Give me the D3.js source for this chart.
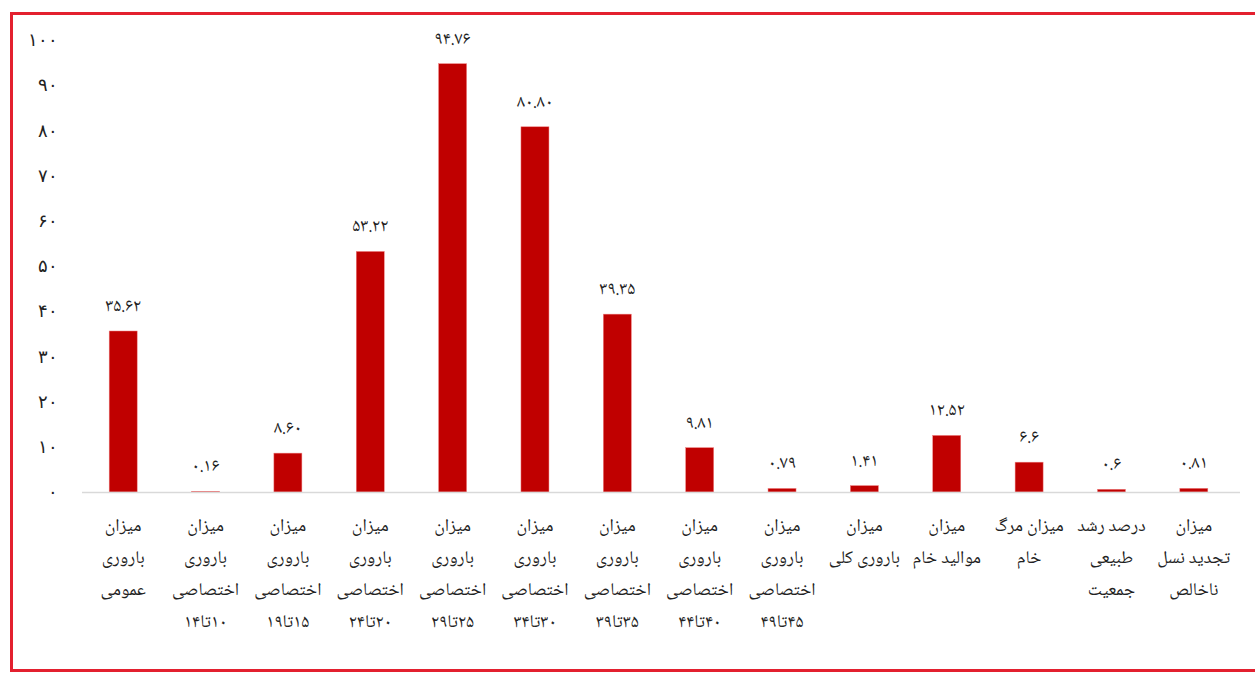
<!DOCTYPE html>
<html>
<head>
<meta charset="utf-8">
<script src="https://cdn.jsdelivr.net/npm/d3@7"></script>
<style>
  body { margin: 0; background: #fff; }
  svg { display: block; font-family: "Noto Naskh Arabic", "Noto Sans Arabic", "DejaVu Sans", sans-serif; }
</style>
</head>
<body>
<div id="chart"></div>
<script>
// data
const categories = [
  ['میزان', 'باروری', 'عمومی'],
  ['میزان', 'باروری', 'اختصاصی', '۱۰تا۱۴'],
  ['میزان', 'باروری', 'اختصاصی', '۱۵تا۱۹'],
  ['میزان', 'باروری', 'اختصاصی', '۲۰تا۲۴'],
  ['میزان', 'باروری', 'اختصاصی', '۲۵تا۲۹'],
  ['میزان', 'باروری', 'اختصاصی', '۳۰تا۳۴'],
  ['میزان', 'باروری', 'اختصاصی', '۳۵تا۳۹'],
  ['میزان', 'باروری', 'اختصاصی', '۴۰تا۴۴'],
  ['میزان', 'باروری', 'اختصاصی', '۴۵تا۴۹'],
  ['میزان', 'باروری کلی'],
  ['میزان', 'موالید خام'],
  ['میزان مرگ', 'خام'],
  ['درصد رشد', 'طبیعی', 'جمعیت'],
  ['میزان', 'تجدید نسل', 'ناخالص']
];
const values = [35.62, 0.16, 8.60, 53.22, 94.76, 80.80, 39.35, 9.81, 0.79, 1.41, 12.52, 6.6, 0.6, 0.81];
const valueLabels = ['35.62', '0.16', '8.60', '53.22', '94.76', '80.80', '39.35', '9.81', '0.79', '1.41', '12.52', '6.6', '0.6', '0.81'];
const yTicks = [0, 10, 20, 30, 40, 50, 60, 70, 80, 90, 100];

// latin digits -> persian digits
const faDigits = '۰۱۲۳۴۵۶۷۸۹';
const toFa = s => String(s).replace(/[0-9]/g, c => faDigits[+c]);

const W = 1255, H = 675;
const svg = d3.select('#chart').append('svg').attr('width', W).attr('height', H);

// red frame
svg.append('rect')
  .attr('x', 11.5).attr('y', 13.5)
  .attr('width', 1260).attr('height', 657)
  .attr('fill', 'none').attr('stroke', '#e3202f').attr('stroke-width', 3);

const idx = d3.range(values.length);
const x = d3.scaleBand().domain(idx).range([82, 1235]).paddingInner(0.66).paddingOuter(0.33);
const y = d3.scaleLinear().domain([0, 100]).range([492, 40]);

// y axis labels only
const yAxis = d3.axisLeft(y).tickValues(yTicks).tickSize(0).tickPadding(0).tickFormat(d => toFa(d));
const yG = svg.append('g').attr('transform', 'translate(58,0)').call(yAxis);
yG.select('.domain').remove();
yG.selectAll('text').attr('font-size', 18).attr('fill', '#222')
  .attr('font-family', null);

// bars
svg.selectAll('.bar').data(idx).enter().append('rect')
  .attr('class', 'bar')
  .attr('x', i => x(i))
  .attr('y', i => y(values[i]))
  .attr('width', x.bandwidth())
  .attr('height', i => y(0) - y(values[i]))
  .attr('fill', '#c00000')
  .attr('stroke', '#f08080').attr('stroke-width', 0.5);

// baseline
svg.append('line')
  .attr('x1', 82).attr('x2', 1240)
  .attr('y1', y(0) + 0.5).attr('y2', y(0) + 0.5)
  .attr('stroke', '#d9d9d9').attr('stroke-width', 1.5);

// value labels
svg.selectAll('.val').data(idx).enter().append('text')
  .attr('class', 'val')
  .attr('x', i => x(i) + x.bandwidth() / 2)
  .attr('y', i => y(values[i]) - 20)
  .attr('text-anchor', 'middle')
  .attr('font-size', 18).attr('fill', '#222')
  .text(i => toFa(valueLabels[i]));

// category labels
const cat = svg.selectAll('.cat').data(idx).enter().append('text')
  .attr('class', 'cat')
  .attr('direction', 'rtl')
  .attr('text-anchor', 'middle')
  .attr('font-size', 18).attr('fill', '#222');
cat.selectAll('tspan').data(i => categories[i].map(t => ({i, t}))).enter().append('tspan')
  .attr('x', d => x(d.i) + x.bandwidth() / 2)
  .attr('y', (d, k) => 531 + k * 32)
  .text(d => d.t);
</script>
</body>
</html>
